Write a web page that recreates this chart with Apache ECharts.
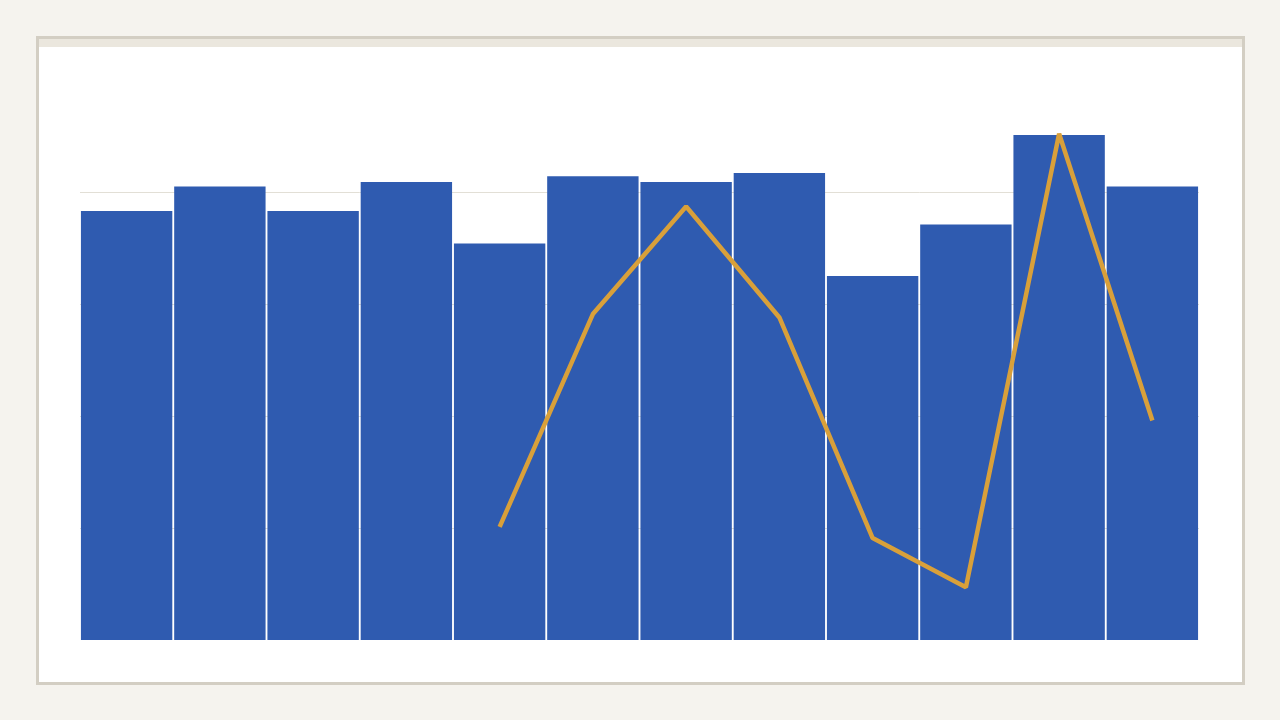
<!DOCTYPE html>
<html>
<head>
<meta charset="utf-8">
<script src="https://cdn.jsdelivr.net/npm/echarts@6/dist/echarts.min.js"></script>
<style>
  html, body { margin: 0; padding: 0; background: #f5f3ee; width: 1280px; height: 720px; overflow: hidden; }
  #card { position: absolute; left: 36px; top: 36px; width: 1203px; height: 643px; border: 3px solid #d3cec3; background: #ffffff; }
  #band { position: absolute; left: 0; top: 0; width: 100%; height: 8px; background: #ebe7de; }
  #chart { position: absolute; left: 0; top: 0; width: 1280px; height: 720px; }
</style>
</head>
<body>
<div id="card"><div id="band"></div></div>
<div id="chart"></div>
<script>
const categories = ['1', '2', '3', '4', '5', '6', '7', '8', '9', '10', '11', '12'];
const barValues = [383, 405, 383, 409, 354, 414, 409, 417, 325, 371, 451, 405];
const lineValues = [null, null, null, null, 101, 291, 387, 288, 91, 47, 452, 196];

const chart = echarts.init(document.getElementById('chart'), null, { renderer: 'canvas' });
chart.setOption({
  backgroundColor: 'transparent',
  animation: false,
  grid: { left: 80, right: 81, top: 80, bottom: 80 },
  xAxis: {
    type: 'category',
    data: categories,
    axisLine: { show: false },
    axisTick: { show: false },
    axisLabel: { show: false },
    splitLine: { show: false }
  },
  yAxis: {
    type: 'value',
    min: 0,
    max: 500,
    interval: 100,
    axisLine: { show: false },
    axisTick: { show: false },
    axisLabel: { show: false },
    splitLine: { show: true, showMaxLine: false, showMinLine: false, lineStyle: { color: '#e2dfd6', width: 1 } }
  },
  series: [
    {
      type: 'bar',
      data: barValues,
      barCategoryGap: '2%',
      itemStyle: { color: '#2f5bb0' },
      z: 2
    },
    {
      type: 'line',
      data: lineValues,
      showSymbol: false,
      symbol: 'none',
      connectNulls: false,
      lineStyle: { color: '#d9a03a', width: 4.5 },
      z: 3
    }
  ]
});
</script>
</body>
</html>
